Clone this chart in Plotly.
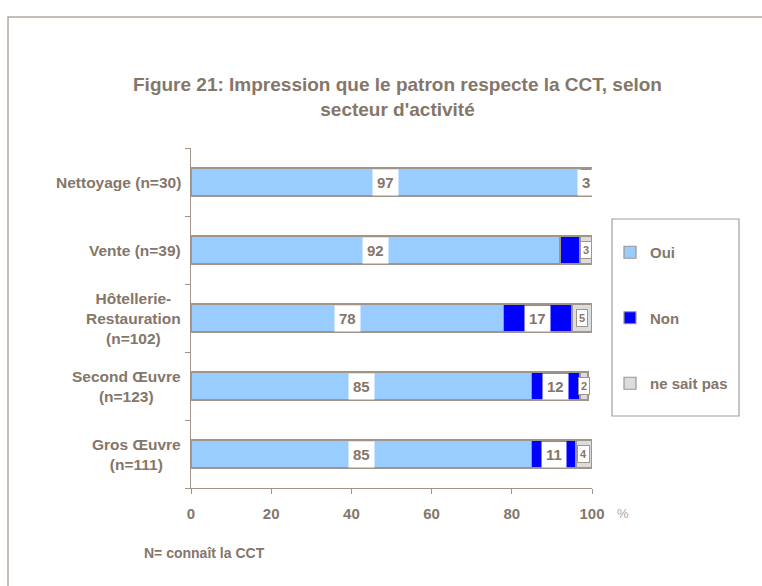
import plotly.graph_objects as go

# Sector categories, top to bottom
sectors = ["Nettoyage", "Vente", "Hôtellerie-Restauration", "Second Œuvre", "Gros Œuvre"]
sector_labels = [
    "Nettoyage (n=30)",
    "Vente (n=39)",
    "Hôtellerie-<br>Restauration<br>(n=102)",
    "Second Œuvre<br>(n=123)",
    "Gros Œuvre<br>(n=111)",
]

# Shares in percent
oui = [97, 92, 78, 85, 85]
non = [3, 5, 17, 12, 11]
nsp = [0, 3, 5, 2, 4]

# Which values carry a printed label
show_oui = [True, True, True, True, True]
show_non = [True, False, True, True, True]
show_nsp = [False, True, True, True, True]

x_ticks = [0, 20, 40, 60, 80, 100]

TXT = "#85766a"
EDGE = "#a0958b"
FONT = "Liberation Sans, Arial, sans-serif"

fig = go.Figure()
series = [("Oui", oui, "#99ccff"), ("Non", non, "#0000ff"), ("ne sait pas", nsp, "#dcdcdc")]
for i, (name, vals, col) in enumerate(series):
    fig.add_trace(go.Bar(
        y=sectors, x=vals, name=f"<b>{name}</b>", orientation="h",
        marker=dict(color=col, line=dict(color=EDGE, width=1.2)),
        width=0.41, legendgroup=name,
    ))

# Value labels centred on each segment
ann = []
for k, s in enumerate(sectors):
    segs = [(oui[k], 0, show_oui[k], 15, False),
            (non[k], oui[k], show_non[k], 15, False),
            (nsp[k], oui[k] + non[k], show_nsp[k], 11, True)]
    for v, start, show, fs, boxed in segs:
        if not show:
            continue
        ann.append(dict(
            x=start + v / 2, y=s, xref="x", yref="y", text=f"<b>{v}</b>",
            showarrow=False, font=dict(size=fs, color=TXT, family=FONT),
            bgcolor="white", bordercolor=EDGE if boxed else "rgba(0,0,0,0)",
            borderwidth=1, borderpad=2 if boxed else 4,
        ))

# Category labels, centred lines to the left of the axis
for s, lab in zip(sectors, sector_labels):
    ann.append(dict(
        x=-0.02, y=s, xref="paper", yref="y", text=f"<b>{lab}</b>",
        xanchor="right", align="center", showarrow=False,
        font=dict(size=15.5, color=TXT, family=FONT),
    ))

ann.append(dict(
    x=(397 - 191) / 401, y=(488 - 97) / 340, xref="paper", yref="paper",
    text="<b>Figure 21: Impression que le patron respecte la CCT, selon<br>secteur d'activité</b>",
    showarrow=False, font=dict(size=19, color=TXT, family=FONT), align="center",
    xanchor="center", yanchor="middle",
))
ann.append(dict(
    x=(623 - 191) / 401, y=-(513 - 488) / 340, xref="paper", yref="paper",
    text="%", showarrow=False, font=dict(size=13, color="#b0a69d", family=FONT),
    xanchor="center", yanchor="middle",
))
ann.append(dict(
    x=(204 - 191) / 401, y=-(553 - 488) / 340, xref="paper", yref="paper",
    text="<b>N= connaît la CCT</b>", showarrow=False,
    font=dict(size=14, color=TXT, family=FONT), xanchor="center", yanchor="middle",
))

shapes = [
    # outer frame
    dict(type="rect", xref="paper", yref="paper",
         x0=(8 - 191) / 401, x1=(800 - 191) / 401,
         y0=-(620 - 488) / 340, y1=(488 - 17) / 340,
         line=dict(color="#b3a89e", width=1.5)),
    # legend frame
    dict(type="rect", xref="paper", yref="paper",
         x0=(612 - 191) / 401, x1=(739 - 191) / 401,
         y0=(488 - 416) / 340, y1=(488 - 219) / 340,
         line=dict(color="#a89d93", width=1.2)),
]

fig.update_layout(
    width=762, height=586,
    margin=dict(l=191, r=170, t=148, b=98),
    paper_bgcolor="white", plot_bgcolor="white",
    barmode="stack", bargap=0.59,
    font=dict(family=FONT, color=TXT),
    showlegend=True,
    legend=dict(
        x=(610 - 191) / 401, y=(488 - 236) / 340, xanchor="left", yanchor="top",
        traceorder="grouped", tracegroupgap=43, itemwidth=30,
        font=dict(size=15, color=TXT, family=FONT),
        bgcolor="rgba(0,0,0,0)",
    ),
    xaxis=dict(
        range=[0, 100], tickvals=x_ticks, ticktext=[f"<b>{t}</b>" for t in x_ticks],
        showgrid=False, zeroline=False, showline=True, linecolor=EDGE, linewidth=1.2,
        ticks="outside", ticklen=5, tickcolor=EDGE, ticklabelstandoff=7,
        tickfont=dict(size=15, color=TXT, family=FONT),
    ),
    yaxis=dict(
        categoryorder="array", categoryarray=sectors[::-1],
        showgrid=False, zeroline=False, showline=True, linecolor=EDGE, linewidth=1.2,
        ticks="outside", ticklen=5, tickcolor=EDGE, tickson="boundaries",
        showticklabels=False,
    ),
    annotations=ann, shapes=shapes,
)

fig.write_html("out.html")
